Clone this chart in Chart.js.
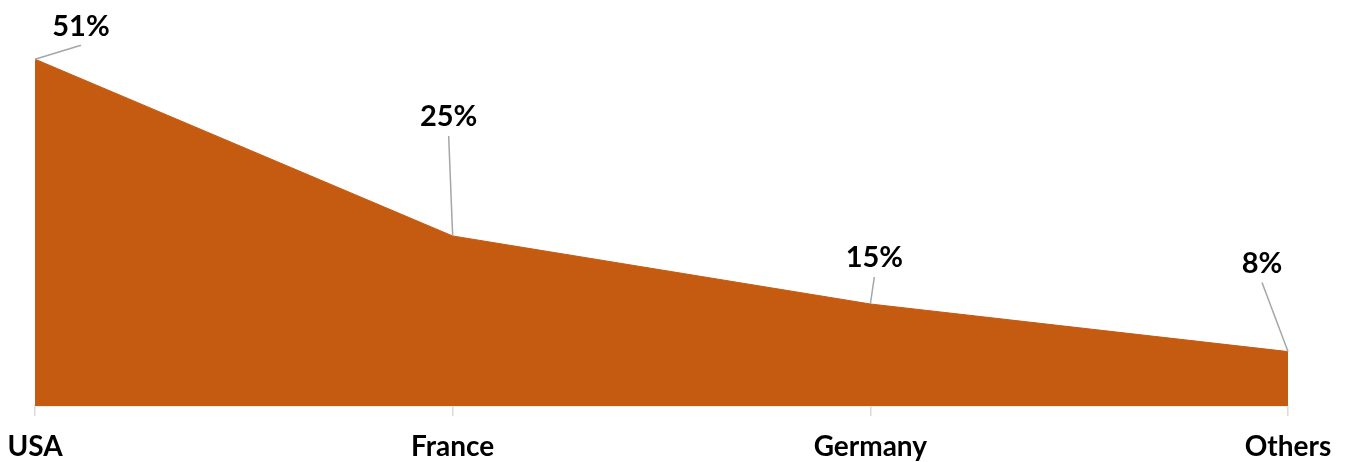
<!DOCTYPE html>
<html>
<head>
<meta charset="utf-8">
<title>Share by country</title>
<script src="https://cdn.jsdelivr.net/npm/chart.js@4.4.1/dist/chart.umd.min.js"></script>
<style>
  html, body { margin: 0; padding: 0; background: #fff; }
  #wrap { width: 1346px; height: 462px; }
</style>
</head>
<body>
<div id="wrap"><canvas id="myChart" width="1346" height="462"></canvas></div>
<script>
var countries = ['USA', 'France', 'Germany', 'Others'];
var shares = [51, 25, 15, 8];

// where each value label sits, relative to its point
var labelOffsets = [[46, -33], [-4, -119], [4, -46], [-26, -88]];

var fontStack = "Lato, Calibri, 'Open Sans', sans-serif";

// percent labels with thin grey leader lines
var leaderLabels = {
  id: 'leaderLabels',
  afterDatasetsDraw: function (chart) {
    var ctx = chart.ctx;
    var meta = chart.getDatasetMeta(0);
    ctx.save();
    meta.data.forEach(function (pt, i) {
      var off = labelOffsets[i];
      var lx = pt.x + off[0];
      var ly = pt.y + off[1];
      ctx.strokeStyle = '#a6a6a6';
      ctx.lineWidth = 1.5;
      ctx.beginPath();
      ctx.moveTo(pt.x, pt.y);
      ctx.lineTo(lx, ly + 19);
      ctx.stroke();
      ctx.fillStyle = '#000';
      ctx.font = 'bold 29px ' + fontStack;
      ctx.textAlign = 'center';
      ctx.textBaseline = 'middle';
      ctx.fillText(shares[i] + '%', lx, ly);
    });
    ctx.restore();
  }
};

var ctx = document.getElementById('myChart');
var myChart = new Chart(ctx, {
  type: 'line',
  data: {
    labels: countries,
    datasets: [{
      data: shares,
      fill: 'origin',
      backgroundColor: '#c55a11',
      borderColor: '#c55a11',
      borderWidth: 1,
      pointRadius: 0,
      tension: 0
    }]
  },
  options: {
    responsive: false,
    animation: false,
    layout: {
      padding: { left: 35, right: 58, top: 0, bottom: 0 }
    },
    plugins: {
      legend: { display: false },
      tooltip: { enabled: false }
    },
    scales: {
      x: {
        offset: false,
        // edge labels may hang outside the plot; fixed axis band height
        afterFit: function (scale) {
          scale.paddingLeft = 0;
          scale.paddingRight = 0;
          scale.height = 56;
        },
        border: { display: true, color: '#d9d9d9', width: 1.5 },
        grid: {
          drawOnChartArea: false,
          drawTicks: true,
          tickLength: 10,
          color: '#d9d9d9',
          lineWidth: 1.5
        },
        ticks: {
          color: '#000',
          padding: 17,
          maxRotation: 0,
          font: { family: fontStack, size: 28, weight: 'bold', lineHeight: 1 }
        }
      },
      y: {
        display: false,
        min: 0,
        max: 59.7
      }
    }
  },
  plugins: [leaderLabels]
});
</script>
</body>
</html>
